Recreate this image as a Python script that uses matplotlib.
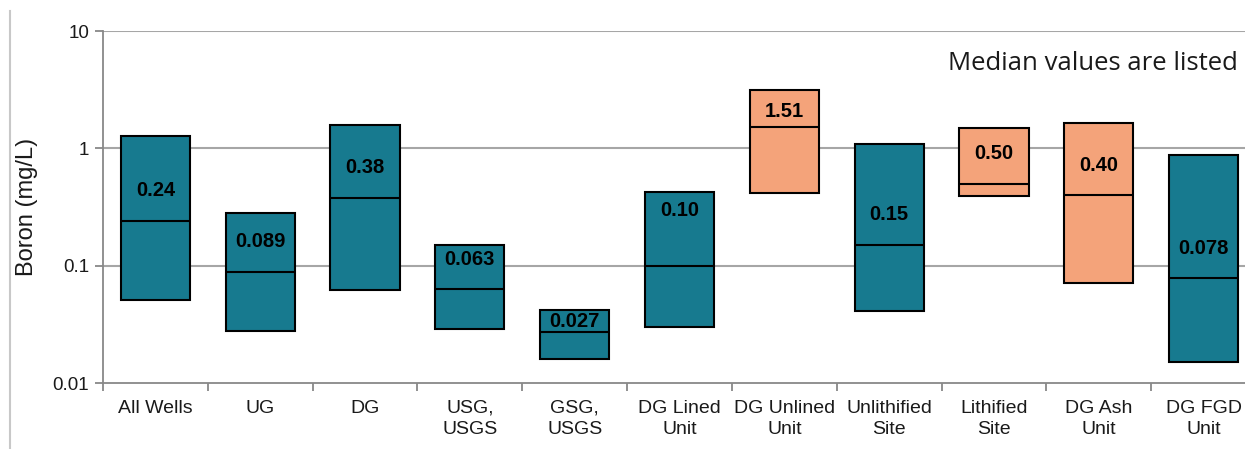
import matplotlib
matplotlib.use("Agg")
import matplotlib.pyplot as plt
from matplotlib.lines import Line2D
import numpy as np

# Boron concentration ranges (mg/L) by well / unit group
categories = ["All Wells", "UG", "DG", "USG,\nUSGS", "GSG,\nUSGS", "DG Lined\nUnit",
              "DG Unlined\nUnit", "Unlithified\nSite", "Lithified\nSite", "DG Ash\nUnit",
              "DG FGD\nUnit"]
low_values = [0.051, 0.0276, 0.062, 0.029, 0.0161, 0.030, 0.417, 0.0414, 0.396, 0.0713, 0.0150]
high_values = [1.265, 0.281, 1.59, 0.149, 0.0417, 0.421, 3.16, 1.09, 1.48, 1.64, 0.879]
median_values = [0.24, 0.089, 0.38, 0.063, 0.027, 0.10, 1.51, 0.15, 0.50, 0.40, 0.078]
median_labels = ["0.24", "0.089", "0.38", "0.063", "0.027", "0.10", "1.51", "0.15", "0.50",
                 "0.40", "0.078"]
highlight = [False, False, False, False, False, False, True, False, True, True, False]

# Height (mg/L) at which each median label is written inside its box
label_heights = [0.437, 0.160, 0.687, 0.112, 0.0336, 0.294, 2.06, 0.272, 0.902, 0.714, 0.141]

TEAL = "#177A8F"
ORANGE = "#F4A37A"
GRID = "#a6a6a6"
TXT = "#1a1a1a"

W, H = 1245, 449
fig = plt.figure(figsize=(W / 100, H / 100), dpi=100)
ax = fig.add_axes([103 / W, (H - 383) / H, (1256 - 103) / W, (383 - 31) / H])

ax.set_yscale("log")
ax.set_ylim(0.01, 10)
ax.set_xlim(0, len(categories))

x = np.arange(len(categories)) + 0.5
box_w = 0.66
for xi, lo, hi, med, lab, ly, hl in zip(x, low_values, high_values, median_values,
                                        median_labels, label_heights, highlight):
    face = ORANGE if hl else TEAL
    ax.bar(xi, hi - lo, bottom=lo, width=box_w, color=face, edgecolor="black",
           linewidth=1.5, zorder=3)
    ax.plot([xi - box_w / 2, xi + box_w / 2], [med, med], color="black", lw=1.5,
            zorder=4, solid_capstyle="butt")
    ax.text(xi, ly, lab, ha="center", va="center", fontsize=14.5, fontweight="bold",
            family="Liberation Sans", color="black", zorder=5)

# Horizontal gridlines at each decade
for yv in [0.1, 1, 10]:
    ax.axhline(yv, color=GRID, lw=1.5, zorder=1)

for s in ["top", "right"]:
    ax.spines[s].set_visible(False)
for s in ["left", "bottom"]:
    ax.spines[s].set_color("#888888")
    ax.spines[s].set_linewidth(1.3)

ax.set_yticks([0.01, 0.1, 1, 10])
ax.set_yticklabels(["0.01", "0.1", "1", "10"])
ax.yaxis.set_minor_locator(matplotlib.ticker.NullLocator())
ax.tick_params(axis="y", which="major", length=6, width=1.3, color="#888888",
               labelsize=13.5, labelcolor=TXT, pad=4)
for t in ax.get_yticklabels():
    t.set_family("Liberation Sans")

# Category boundaries as ticks, names centred between them
ax.set_xticks(np.arange(len(categories) + 1))
ax.set_xticklabels([])
ax.set_xticks(x, minor=True)
ax.set_xticklabels(categories, minor=True)
ax.tick_params(axis="x", which="major", length=6, width=1.3, color="#888888")
ax.tick_params(axis="x", which="minor", length=0, labelsize=14, labelcolor=TXT, pad=12)
for t in ax.get_xticklabels(minor=True):
    t.set_family("Liberation Sans")
    t.set_linespacing(1.3)
    t.set_verticalalignment("top")

ax.set_ylabel("Boron (mg/L)", fontsize=17, family="Liberation Sans", color=TXT)
ax.yaxis.set_label_coords(-65 / (1256 - 103), 0.5)

ax.text(1238 / W, (H - 63) / H, "Median values are listed", transform=fig.transFigure,
        ha="right", va="center", fontsize=18.5, family="Open Sans", color=TXT)

# Outer frame line at the left edge
fig.add_artist(Line2D([10 / W, 10 / W], [0, (H - 11) / H], transform=fig.transFigure,
                      color="#c8c8c8", lw=1.5))

fig.savefig("out.png", dpi=100)
